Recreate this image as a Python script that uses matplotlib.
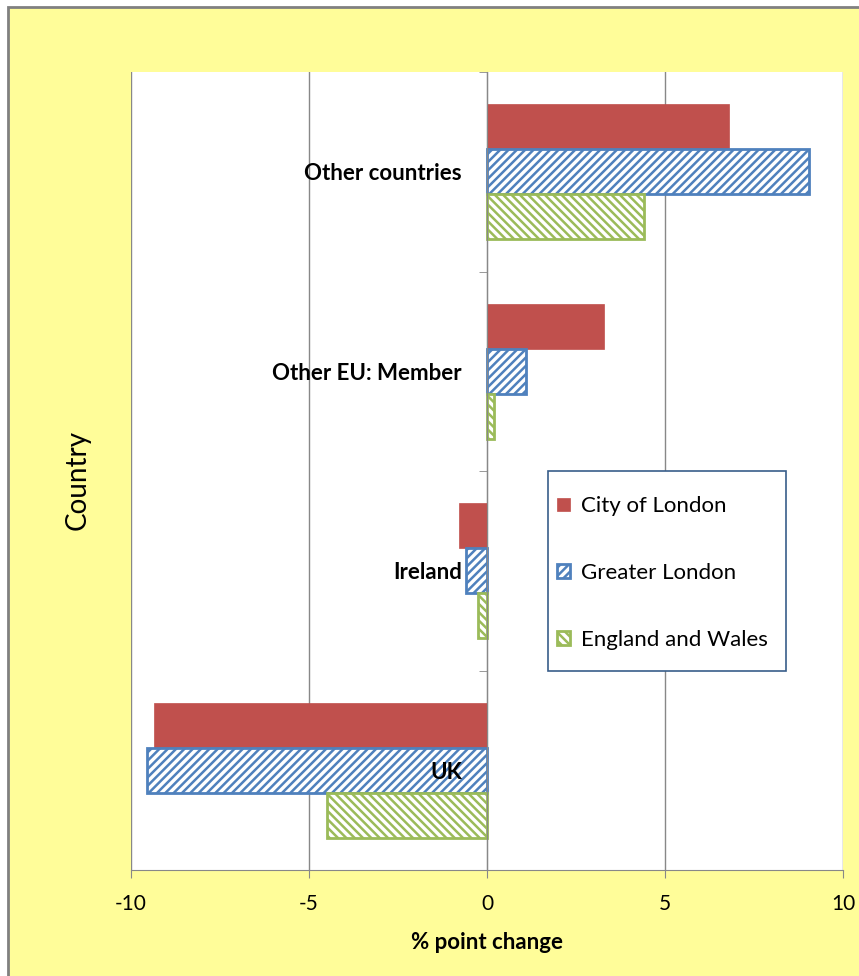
import matplotlib.pyplot as plt
import matplotlib.patches as patches
import numpy as np

plt.rcParams['font.family'] = ['Lato', 'DejaVu Sans']
plt.rcParams['hatch.linewidth'] = 1.8

# data (bottom to top)
countries = ['UK', 'Ireland', 'Other EU: Member', 'Other countries']
city = [-9.35, -0.8, 3.3, 6.8]
greater = [-9.55, -0.6, 1.1, 9.05]
eng_wales = [-4.5, -0.25, 0.2, 4.4]
series_names = ['City of London', 'Greater London', 'England and Wales']

fig = plt.figure(figsize=(8.59, 9.76), dpi=100)
fig.patch.set_facecolor('white')
# yellow chart area with grey border, cut off at right/bottom like the source
fig.patches.append(patches.Rectangle((8 / 859, -0.1), 1.2, 1 - 7 / 976 + 0.1,
                                     transform=fig.transFigure, facecolor='#FFFD99',
                                     edgecolor='#808080', linewidth=2, zorder=-5))

ax = fig.add_axes([131 / 859, 106 / 976, 712 / 859, 798 / 976])
ax.set_facecolor('white')
ax.set_zorder(2)

y = np.arange(len(countries))
h = 0.226
b1 = ax.barh(y + h, city, height=h, color='#C0504D', edgecolor='#C0504D', linewidth=0.5,
             label=series_names[0], zorder=3)
b2 = ax.barh(y, greater, height=h, color='white', edgecolor='#4F81BD', hatch='////',
             linewidth=2, label=series_names[1], zorder=3)
b3 = ax.barh(y - h, eng_wales, height=h, color='white', edgecolor='#9BBB59', hatch='\\\\\\\\',
             linewidth=2, label=series_names[2], zorder=3)

ax.set_xlim(-10, 10)
ax.set_ylim(-0.5, len(countries) - 0.5)
ax.set_xticks([-10, -5, 0, 5, 10])
ax.set_xticklabels(['-10', '-5', '0', '5', '10'], fontsize=15)
ax.xaxis.grid(True, color='#888888', linewidth=1, zorder=0)
ax.set_axisbelow(True)
ax.tick_params(axis='x', length=6, color='#888888', pad=11)

for s in ['top', 'right']:
    ax.spines[s].set_visible(False)
ax.spines['bottom'].set_color('#888888')
ax.spines['left'].set_position(('data', 0))
ax.spines['left'].set_color('#888888')
ax.spines['left'].set_zorder(4)

ax.set_yticks(y)
ax.set_yticklabels(countries, fontsize=16, fontweight='bold')
ax.tick_params(axis='y', which='major', length=0, pad=18)
ax.set_yticks(np.arange(len(countries) + 1) - 0.5, minor=True)
ax.tick_params(axis='y', which='minor', length=6, color='#888888')
ax.yaxis.set_zorder(5)

ax.set_xlabel('% point change', fontsize=16, fontweight='bold', labelpad=13)
fig.text(78 / 859, 1 - 480 / 976, 'Country', rotation=90, fontsize=20,
         ha='center', va='center')

# legend box
ax.add_patch(patches.Rectangle(((548 - 131) / 712, (870 - 671) / 798),
                               (786 - 548) / 712, 200 / 798, transform=ax.transAxes,
                               facecolor='white', edgecolor='#385D8A', linewidth=1.2,
                               zorder=6))
leg = ax.legend(handles=[b1, b2, b3], loc='center left',
                bbox_to_anchor=((553 - 131) / 712, (870 - 573) / 798),
                fontsize=16, frameon=False, handlelength=0.55,
                handleheight=0.55, handletextpad=0.5, labelspacing=2.1,
                borderpad=0.2, borderaxespad=0)
leg.set_zorder(7)

fig.savefig('out.png', dpi=100)
